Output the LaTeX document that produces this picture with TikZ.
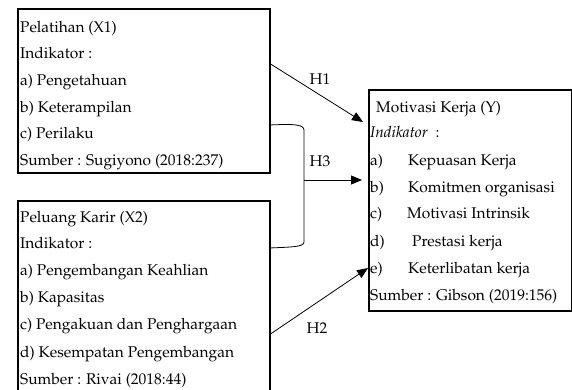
\documentclass[tikz,border=0pt]{standalone}
\usepackage[T1]{fontenc}
\renewcommand{\rmdefault}{ppl}
\usetikzlibrary{arrows.meta}
\newcommand{\fsz}{\fontsize{15.5}{18}\selectfont}
\begin{document}
\begin{tikzpicture}[x=1pt,y=-1pt,
  box/.style={draw, line width=1.8pt, inner sep=0pt, anchor=north west},
  txt/.style={anchor=base west, inner sep=0pt, font=\fsz},
  lbl/.style={inner sep=0pt, font=\fsz},
  arr/.style={line width=0.8pt, -{Triangle[length=11pt,width=9pt]}},
  brk/.style={line width=0.8pt}]
\useasboundingbox (0,0) rectangle (572,389);
% boxes
\node[box, minimum width=252pt, minimum height=164pt] (x1) at (17,8) {};
\node[box, minimum width=252pt, minimum height=200pt] (x2) at (17,200) {};
\node[box, minimum width=203pt, minimum height=221pt] (y) at (368,89) {};
% X1 text
\node[txt] (x1a) at (20,32) {Pelatihan (X1)};
\node[txt] (x1b) at (20,58.5) {Indikator :};
\node[txt] (x1c) at (20,85) {a) Pengetahuan};
\node[txt] (x1d) at (20,112) {b) Keterampilan};
\node[txt] (x1e) at (20,138.5) {c) Perilaku};
\node[txt] (x1f) at (20,165) {Sumber : Sugiyono (2018:237)};
% X2 text
\node[txt] (x2a) at (20,222) {Peluang Karir (X2)};
\node[txt] (x2b) at (20,248) {Indikator :};
\node[txt] (x2c) at (20,275) {a) Pengembangan Keahlian};
\node[txt] (x2d) at (20,302) {b) Kapasitas};
\node[txt] (x2e) at (20,329) {c) Pengakuan dan Penghargaan};
\node[txt] (x2f) at (20,357) {d) Kesempatan Pengembangan};
\node[txt] (x2g) at (20,384) {Sumber : Rivai (2018:44)};
% Y text
\node[txt] (ya) at (376,112) {Motivasi Kerja (Y)};
\node[txt] (yb) at (370,137) {\textit{Indikator}\ \ :};
\node[txt] (yc) at (370,165) {\makebox[38pt][l]{a)}Kepuasan Kerja};
\node[txt] (yd) at (370,192) {\makebox[38pt][l]{b)}Komitmen organisasi};
\node[txt] (ye) at (370,218.5) {\makebox[37pt][l]{c)}Motivasi Intrinsik};
\node[txt] (yf) at (370,246) {\makebox[42pt][l]{d)}Prestasi kerja};
\node[txt] (yg) at (370,273) {\makebox[38pt][l]{e)}Keterlibatan kerja};
\node[txt] (yh) at (370,300) {Sumber : Gibson (2019:156)};
% connector points
\coordinate (h1s) at (269,63);
\coordinate (h1e) at (363,122);
\coordinate (b1) at (269,125);
\coordinate (b2) at (269,248);
\coordinate (h3s) at (304,180);
\coordinate (h3e) at (362,180);
\coordinate (h2s) at (269,335);
\coordinate (h2e) at (368,268);
% connectors
\draw[arr] (h1s) -- (h1e);
\draw[brk] (b1) .. controls (292,124) and (304,124) .. (304,130) -- (304,242) .. controls (304,247) and (292,247) .. (b2);
\draw[arr] (h3s) -- (h3e);
\draw[arr] (h2s) -- (h2e);
% labels
\node[lbl] (l1) at (320,79) {H1};
\node[lbl] (l3) at (320,161) {H3};
\node[lbl] (l2) at (317,328) {H2};
\end{tikzpicture}
\end{document}
